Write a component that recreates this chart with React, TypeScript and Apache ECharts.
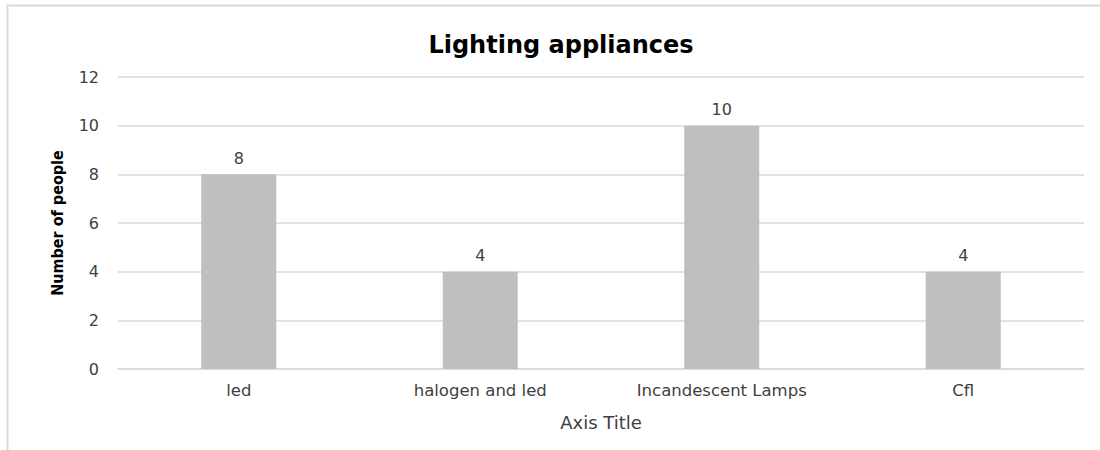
import React, { useEffect, useRef } from "react";
import * as echarts from "echarts";

const categories = ["led", "halogen and led", "Incandescent Lamps", "Cfl"];
const values = [8, 4, 10, 4];
const yTicks = { min: 0, max: 12, interval: 2 };
const chartTitle = "Lighting appliances";
const xAxisTitle = "Axis Title";
const yAxisTitle = "Number of people";

export default function App() {
  const ref = useRef<HTMLDivElement>(null);
  useEffect(() => {
    if (!ref.current) return;
    const chart = echarts.init(ref.current, undefined, { renderer: "svg" });
    const font = "'DejaVu Sans', sans-serif";
    chart.setOption({
      animation: false,
      backgroundColor: "#ffffff",
      title: {
        text: chartTitle,
        left: 556,
        top: 28,
        textAlign: "center",
        textStyle: { fontFamily: font, fontWeight: "bold", fontSize: 24, color: "#000000" },
      },
      grid: { left: 118, right: 16, top: 77, bottom: 81, containLabel: false },
      xAxis: {
        type: "category",
        data: categories,
        axisLine: { show: true, lineStyle: { color: "#d9d9d9", width: 1.5 } },
        axisTick: { show: false },
        axisLabel: { margin: 13, fontFamily: font, fontSize: 16.5, color: "#404040" },
        name: xAxisTitle,
        nameLocation: "middle",
        nameGap: 44,
        nameTextStyle: { fontFamily: font, fontSize: 18, color: "#404040" },
      },
      yAxis: {
        type: "value",
        min: yTicks.min,
        max: yTicks.max,
        interval: yTicks.interval,
        axisLine: { show: false },
        axisTick: { show: false },
        splitLine: { lineStyle: { color: "#d9d9d9", width: 1.5 } },
        axisLabel: { margin: 19, fontFamily: font, fontSize: 16, color: "#404040" },
        name: yAxisTitle,
        nameLocation: "middle",
        nameGap: 53,
        nameRotate: 90,
        nameTextStyle: {
          fontFamily: "'Liberation Sans Narrow', 'DejaVu Sans Condensed', 'DejaVu Sans', sans-serif",
          fontWeight: "bold",
          fontSize: 16,
          color: "#000000",
        },
      },
      series: [
        {
          type: "bar",
          data: values,
          barWidth: 75,
          itemStyle: { color: "#bfbfbf" },
          label: {
            show: true,
            position: "top",
            distance: 8,
            fontFamily: font,
            fontSize: 16,
            color: "#404040",
          },
        },
      ],
      graphic: [
        {
          type: "rect",
          shape: { x: 7.5, y: 5.5, width: 1200, height: 600 },
          style: { fill: "none", stroke: "#d9d9d9", lineWidth: 2 },
          silent: true,
        },
      ],
    });
    return () => chart.dispose();
  }, []);
  return (
    <div
      ref={ref}
      style={{ position: "absolute", left: 0, top: 0, width: 1100, height: 450 }}
    />
  );
}
